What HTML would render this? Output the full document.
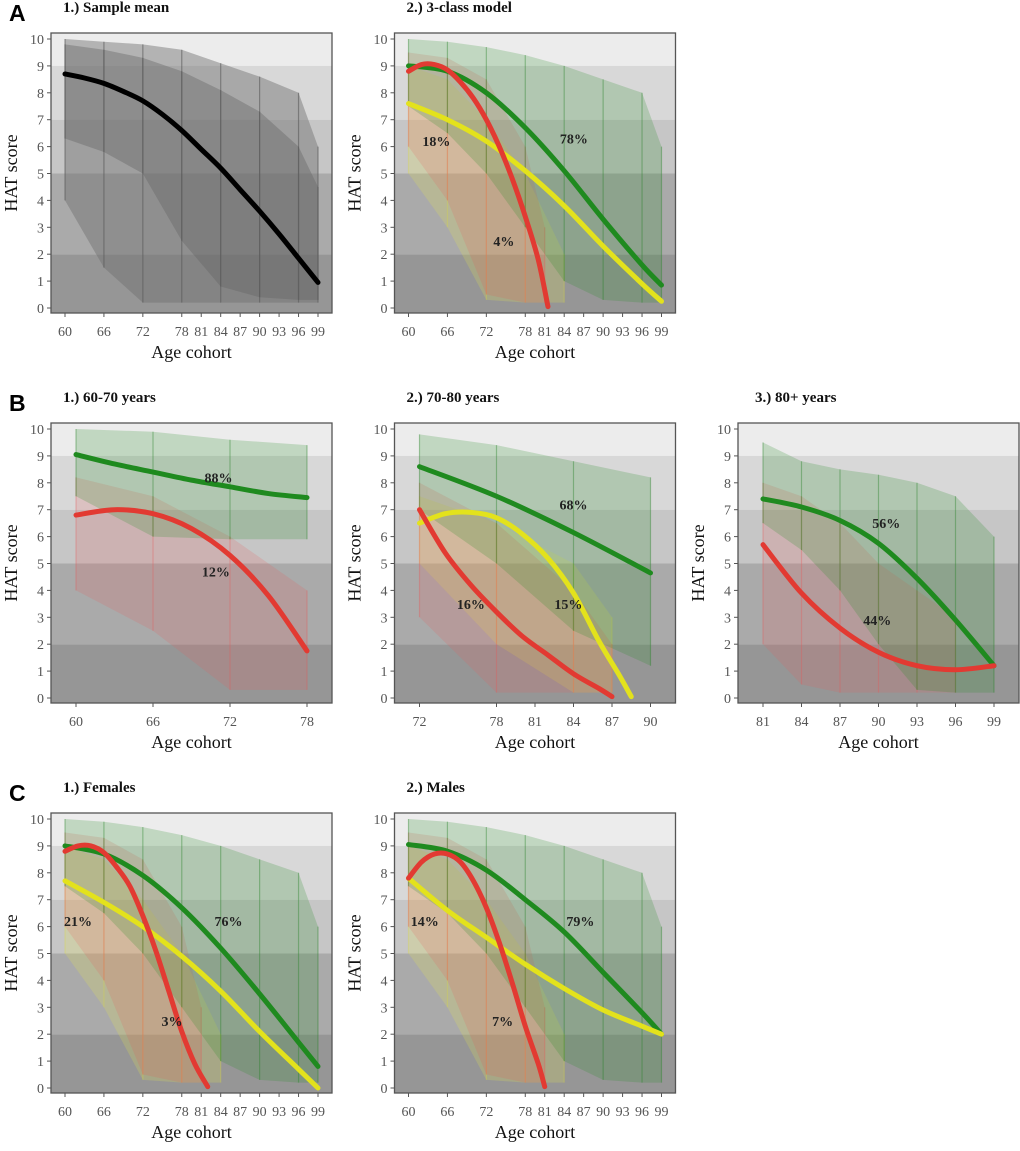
<!DOCTYPE html>
<html><head><meta charset="utf-8"><style>
body{margin:0;background:#fff}
svg text{font-family:"Liberation Serif",serif}
</style></head><body>
<svg id="fig" width="1020" height="1146" viewBox="0 0 1020 1146" xmlns="http://www.w3.org/2000/svg"></svg>
<script>
// ---- data ----
const yTicks=[0,1,2,3,4,5,6,7,8,9,10];
const bandEdges=[10,9,7,5,2,0];
const bandColors=['#ececec','#d8d8d8','#c6c6c6','#aaaaaa','#969696'];
const ticksFull=[60,66,72,78,81,84,87,90,93,96,99];
const ticksB1=[60,66,72,78];
const ticksB2=[72,78,81,84,87,90];
const ticksB3=[81,84,87,90,93,96,99];

// A1
const a1Ages=[60,66,72,78,84,90,96,99];
const a1MeanAges=[60,63,66,69,72,75,78,81,84,87,90,93,96,99];
const a1Mean=[8.7,8.55,8.35,8.05,7.7,7.2,6.6,5.9,5.2,4.4,3.6,2.75,1.85,0.95];
const a1EnvUp=[10,9.9,9.8,9.6,9.1,8.6,8,6];
const a1EnvLo=[4,1.5,0.2,0.2,0.2,0.2,0.2,0.2];
const a1CoreUp=[9.8,9.6,9.3,8.8,8.1,7.3,6,4.5];
const a1CoreLo=[6.3,5.8,5,2.5,0.8,0.4,0.3,0.3];
// A2
const a2RedAges=[60,62,64,66,68,70,72,74,76,78,80,81.5];
const a2Red=[8.8,9.05,9.05,8.85,8.4,7.8,7.0,6.0,4.8,3.4,1.8,0.05];
const a2Ages=[60,66,72,78,84,90,96,99];
const a2Green=[9.0,8.8,8.0,6.7,5.1,3.3,1.6,0.85];
const a2Yellow=[7.6,7.0,6.2,5.1,3.8,2.3,0.9,0.25];
// B1
const b1Ages=[60,63,66,69,72,75,78];
const b1Green=[9.05,8.7,8.4,8.1,7.85,7.6,7.45];
const b1Red=[6.8,7.0,6.85,6.3,5.3,3.8,1.75];
// B2
const b2GreenAges=[72,78,84,90];
const b2Green=[8.6,7.5,6.15,4.65];
const b2YellowAges=[72,74,76,78,80,82,84,86,87.5,88.5];
const b2Yellow=[6.5,6.85,6.9,6.7,6.1,5.2,3.9,2.1,0.9,0.05];
const b2RedAges=[72,74,76,78,80,82,84,86,87];
const b2Red=[7.0,5.4,4.2,3.2,2.3,1.6,0.9,0.35,0.05];
// B3
const b3Ages=[81,84,87,90,93,96,99];
const b3Green=[7.4,7.1,6.6,5.75,4.45,2.9,1.2];
const b3Red=[5.7,3.9,2.6,1.7,1.2,1.05,1.2];
// C1
const c1RedAges=[60,62,64,66,68,70,72,74,76,78,80,82];
const c1Red=[8.8,9.0,9.0,8.75,8.2,7.5,6.4,5.1,3.6,2.1,0.9,0.05];
const c1Ages=[60,66,72,78,84,90,96,99];
const c1Green=[9.0,8.7,7.9,6.7,5.2,3.5,1.7,0.8];
const c1Yellow=[7.7,6.9,6.0,4.9,3.6,2.1,0.7,0.0];
// C2
const c2RedAges=[60,62,64,66,68,70,72,74,76,78,80,81];
const c2Red=[7.8,8.4,8.7,8.7,8.4,7.7,6.7,5.4,3.9,2.3,0.9,0.05];
const c2Ages=[60,66,72,78,84,90,96,99];
const c2Green=[9.05,8.8,8.1,7.0,5.8,4.3,2.8,2.0];
const c2Yellow=[7.8,6.6,5.6,4.6,3.7,2.9,2.3,2.0];

// ---- drawing ----
const NS='http://www.w3.org/2000/svg';
const svg=document.getElementById('fig');
function mk(tag,attrs,parent){const e=document.createElementNS(NS,tag);for(const k in attrs)e.setAttribute(k,attrs[k]);(parent||svg).appendChild(e);return e;}
function smoothPath(pts){
  let d='M'+pts[0][0]+','+pts[0][1];
  for(let i=0;i<pts.length-1;i++){
    const p0=pts[i-1]||pts[i],p1=pts[i],p2=pts[i+1],p3=pts[i+2]||p2;
    const c1x=p1[0]+(p2[0]-p0[0])/6,c1y=p1[1]+(p2[1]-p0[1])/6;
    const c2x=p2[0]-(p3[0]-p1[0])/6,c2y=p2[1]-(p3[1]-p1[1])/6;
    d+=' C'+c1x+','+c1y+' '+c2x+','+c2y+' '+p2[0]+','+p2[1];
  }
  return d;
}
function panel(o){
  const L=51+o.col*343.5,R=L+281,T=33+o.row*390,B=T+280;
  const y10=T+6,y0=B-5;
  const sy=v=>y0-(y0-y10)*v/10;
  const sx=a=>L+o.m+(R-L-2*o.m)*(a-o.x0)/(o.x1-o.x0);
  const g=mk('g',{});
  
  
  for(let i=0;i<bandColors.length;i++){
    const top=i===0?T:sy(bandEdges[i]);const bot=i===bandColors.length-1?B:sy(bandEdges[i+1]);
    const r=mk('rect',{x:L,y:top,width:R-L,height:bot-top,fill:bandColors[i]},g);
    
    
  }
  (o.envs||[]).forEach(e=>{
    const up=e.ages.map((a,i)=>[sx(a),sy(e.up[i])]);
    const lo=e.ages.map((a,i)=>[sx(a),sy(e.lo[i])]).reverse();
    const p=mk('polygon',{points:up.concat(lo).map(p=>p.join(',')).join(' '),fill:e.fill},g);
    
    
    e.ages.forEach((a,i)=>{
      const l=mk('line',{x1:sx(a),x2:sx(a),y1:sy(e.up[i]),y2:sy(e.lo[i]),stroke:e.stroke,'stroke-width':1.2},g);
      
      
    });
  });
  mk('rect',{x:L,y:T,width:R-L,height:B-T,fill:'none',stroke:'#555','stroke-width':1.3},g);
  yTicks.forEach(v=>{
    mk('line',{x1:L-4,x2:L,y1:sy(v),y2:sy(v),stroke:'#555'},g);
    const t=mk('text',{x:L-7,y:sy(v)+5,'text-anchor':'end','font-size':14,fill:'#555'},g);t.textContent=v;
    
    
  });
  o.ticks.forEach(a=>{
    mk('line',{x1:sx(a),x2:sx(a),y1:B,y2:B+4,stroke:'#555'},g);
    const t=mk('text',{x:sx(a),y:B+23,'text-anchor':'middle','font-size':14,fill:'#555'},g);t.textContent=a;
    
    
  });
  o.curves.forEach(c=>{
    const p=mk('path',{d:smoothPath(c.ages.map((a,i)=>[sx(a),sy(c.vals[i])])),fill:'none',stroke:c.color,'stroke-width':5,'stroke-linecap':'round'},g);
    
    
  });
  (o.labels||[]).forEach(l=>{
    const t=mk('text',{x:sx(l[1]),y:sy(l[2])+5,'text-anchor':'middle','font-size':14,'font-weight':'bold',fill:'#222'},g);t.textContent=l[0];
    
    
  });
  const yt=mk('text',{x:0,y:0,transform:'translate('+(L-34)+','+((T+B)/2)+') rotate(-90)','text-anchor':'middle','font-size':18,fill:'#111'},g);yt.textContent='HAT score';
  
  
  const xt=mk('text',{x:(L+R)/2,y:B+45,'text-anchor':'middle','font-size':18,fill:'#111'},g);xt.textContent='Age cohort';
  
  
  const tt=mk('text',{x:L+(o.col===2?17:12),y:T-21,'font-size':15,'font-weight':'bold',fill:'#111'},g);tt.textContent=o.title;
  
  
}
const G='#1f8a1f',RD='#e23a32',Y='#e3e21c';
const gF='rgba(40,140,40,0.22)',gS='rgba(40,130,40,0.4)',rF='rgba(235,90,90,0.18)',rS='rgba(230,90,90,0.35)',yF='rgba(235,235,70,0.2)',yS='rgba(220,220,60,0.3)';
panel({name:'panel-a1',row:0,col:0,x0:60,x1:99,m:14,ticks:ticksFull,title:'1.) Sample mean',
  envs:[{ages:a1Ages,up:a1EnvUp,lo:a1EnvLo,fill:'rgba(110,110,110,0.45)',stroke:'rgba(90,90,90,0.6)'},
        {ages:a1Ages,up:a1CoreUp,lo:a1CoreLo,fill:'rgba(100,100,100,0.4)',stroke:'rgba(90,90,90,0.5)'}],
  curves:[{name:'sample-mean-curve',ages:a1MeanAges,vals:a1Mean,color:'#000'}]});
panel({name:'panel-a2',row:0,col:1,x0:60,x1:99,m:14,ticks:ticksFull,title:'2.) 3-class model',
  envs:[{ages:[60,66,72,78,84],up:[9,8.5,7,5,2],lo:[5,3,0.3,0.2,0.2],fill:yF,stroke:yS},
        {ages:[60,66,72,78,81],up:[9.5,9.3,8.5,6,3],lo:[6,4,0.5,0.2,0.2],fill:rF,stroke:rS},
        {ages:a2Ages,up:[10,9.9,9.7,9.4,9,8.5,8,6],lo:[7.5,6.5,5,3,1,0.3,0.2,0.2],fill:gF,stroke:gS}],
  curves:[{name:'class-green-curve',ages:a2Ages,vals:a2Green,color:G},{name:'class-yellow-curve',ages:a2Ages,vals:a2Yellow,color:Y},{name:'class-red-curve',ages:a2RedAges,vals:a2Red,color:RD}],
  labels:[['18%',64.3,6.2],['78%',85.5,6.3],['4%',74.7,2.5]]});
panel({name:'panel-b1',row:1,col:0,x0:60,x1:78,m:25,ticks:ticksB1,title:'1.) 60-70 years',
  envs:[{ages:[60,66,72,78],up:[8.2,7.5,6,4],lo:[4,2.5,0.3,0.3],fill:rF,stroke:rS},
        {ages:[60,66,72,78],up:[10,9.9,9.6,9.4],lo:[7.5,6,5.9,5.9],fill:gF,stroke:gS}],
  curves:[{name:'class-green-curve',ages:b1Ages,vals:b1Green,color:G},{name:'class-red-curve',ages:b1Ages,vals:b1Red,color:RD}],
  labels:[['88%',71.1,8.2],['12%',70.9,4.7]]});
panel({name:'panel-b2',row:1,col:1,x0:72,x1:90,m:25,ticks:ticksB2,title:'2.) 70-80 years',
  envs:[{ages:[72,78,84,87],up:[7.5,6.5,5,3],lo:[5,2,0.2,0.2],fill:yF,stroke:yS},
        {ages:[72,78,84,87],up:[8,6.5,4,2],lo:[3,0.2,0.2,0.2],fill:rF,stroke:rS},
        {ages:[72,78,84,90],up:[9.8,9.4,8.8,8.2],lo:[7,5,2.5,1.2],fill:gF,stroke:gS}],
  curves:[{name:'class-green-curve',ages:b2GreenAges,vals:b2Green,color:G},{name:'class-yellow-curve',ages:b2YellowAges,vals:b2Yellow,color:Y},{name:'class-red-curve',ages:b2RedAges,vals:b2Red,color:RD}],
  labels:[['68%',84.0,7.2],['16%',76.0,3.5],['15%',83.6,3.5]]});
panel({name:'panel-b3',row:1,col:2,x0:81,x1:99,m:25,ticks:ticksB3,title:'3.) 80+ years',
  envs:[{ages:[81,84,87,90,93,96],up:[8,7.5,6.5,5,4,3],lo:[2,0.5,0.2,0.2,0.2,0.2],fill:rF,stroke:rS},
        {ages:[81,84,87,90,93,96,99],up:[9.5,8.8,8.5,8.3,8,7.5,6],lo:[6.5,5.5,4,2,0.3,0.2,0.2],fill:gF,stroke:gS}],
  curves:[{name:'class-green-curve',ages:b3Ages,vals:b3Green,color:G},{name:'class-red-curve',ages:b3Ages,vals:b3Red,color:RD}],
  labels:[['56%',90.6,6.5],['44%',89.9,2.9]]});
panel({name:'panel-c1',row:2,col:0,x0:60,x1:99,m:14,ticks:ticksFull,title:'1.) Females',
  envs:[{ages:[60,66,72,78,84],up:[9,8.5,7,5,2],lo:[5,3,0.3,0.2,0.2],fill:yF,stroke:yS},
        {ages:[60,66,72,78,81],up:[9.5,9.3,8.5,6,3],lo:[6,4,0.5,0.2,0.2],fill:rF,stroke:rS},
        {ages:c1Ages,up:[10,9.9,9.7,9.4,9,8.5,8,6],lo:[7.5,6.5,5,3,1,0.3,0.2,0.2],fill:gF,stroke:gS}],
  curves:[{name:'class-green-curve',ages:c1Ages,vals:c1Green,color:G},{name:'class-yellow-curve',ages:c1Ages,vals:c1Yellow,color:Y},{name:'class-red-curve',ages:c1RedAges,vals:c1Red,color:RD}],
  labels:[['21%',62.0,6.2],['76%',85.2,6.2],['3%',76.5,2.5]]});
panel({name:'panel-c2',row:2,col:1,x0:60,x1:99,m:14,ticks:ticksFull,title:'2.) Males',
  envs:[{ages:[60,66,72,78,84],up:[9,8.5,7,5,2],lo:[5,3,0.3,0.2,0.2],fill:yF,stroke:yS},
        {ages:[60,66,72,78,81],up:[9.5,9.3,8.5,6,3],lo:[6,4,0.5,0.2,0.2],fill:rF,stroke:rS},
        {ages:c2Ages,up:[10,9.9,9.7,9.4,9,8.5,8,6],lo:[7.5,6.5,5,3,1,0.3,0.2,0.2],fill:gF,stroke:gS}],
  curves:[{name:'class-green-curve',ages:c2Ages,vals:c2Green,color:G},{name:'class-yellow-curve',ages:c2Ages,vals:c2Yellow,color:Y},{name:'class-red-curve',ages:c2RedAges,vals:c2Red,color:RD}],
  labels:[['14%',62.5,6.2],['79%',86.5,6.2],['7%',74.5,2.5]]});
[['A',0],['B',390],['C',780]].forEach(p=>{
  const t=mk('text',{x:9,y:p[1]+21,'font-size':23,'font-weight':'bold',fill:'#000',style:'font-family:"Liberation Sans",sans-serif'});
  t.textContent=p[0];
  
  
});
</script>
</body></html>
